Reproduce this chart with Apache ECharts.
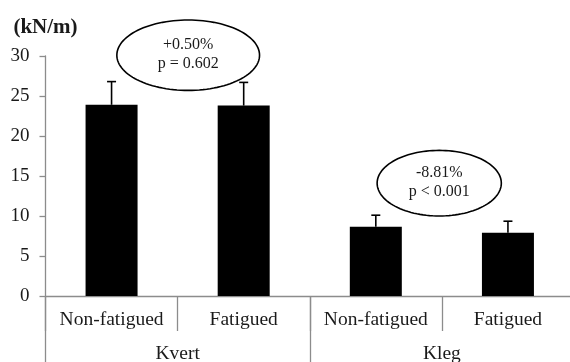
<!DOCTYPE html>
<html>
<head>
<meta charset="utf-8">
<script src="https://cdn.jsdelivr.net/npm/echarts@6/dist/echarts.min.js"></script>
<style>
html,body{margin:0;padding:0;background:#fff;}
#chart{width:570px;height:362px;}
</style>
</head>
<body>
<div id="chart"></div>
<script>
// ---- data ----
const categories = ['Non-fatigued', 'Fatigued', 'Non-fatigued', 'Fatigued'];
const groups = ['Kvert', 'Kleg'];
const means = [23.9, 23.8, 8.65, 7.9];
const sds = [2.9, 2.9, 1.45, 1.45];
const yMin = 0, yMax = 30, yStep = 5;
const unitLabel = '(kN/m)';
const annoLine1 = ['+0.50%', '-8.81%'];
const annoLine2 = ['p = 0.602', 'p < 0.001'];

// ---- layout (annotation anchors: category position, value) ----
const annoAnchor = [[0.58, 30.1], [2.48, 14.1]];
const annoRadius = [[0.54, 4.4], [0.47, 4.1]]; // in category widths / value units

const FONT = '"Liberation Serif", "Times New Roman", serif';
const AXIS_GRAY = '#8c8c8c';
const TXT = '#1a1a1a';

const chart = echarts.init(document.getElementById('chart'));

const errData = means.map((m, i) => [i, m, m + sds[i]]);
const annoData = annoAnchor.map((a, i) => [a[0], a[1], i]);

chart.setOption({
  animation: false,
  backgroundColor: '#fff',
  grid: { left: 45.5, right: -4, top: 56, bottom: 66, containLabel: false, outerBoundsMode: 'none' },
  xAxis: [
    {
      type: 'category',
      data: categories,
      position: 'bottom',
      axisLine: { show: true, lineStyle: { color: AXIS_GRAY, width: 1.3 } },
      axisTick: { show: true, interval: 0, length: 35, lineStyle: { color: AXIS_GRAY, width: 1.3 } },
      axisLabel: { interval: 0, margin: 14, fontSize: 19.5, color: TXT, fontFamily: FONT }
    },
    {
      type: 'category',
      data: groups,
      position: 'bottom',
      axisLine: { show: false },
      axisTick: { show: true, interval: 0, length: 70, lineStyle: { color: AXIS_GRAY, width: 1.3 } },
      axisLabel: { interval: 0, margin: 48, fontSize: 19.5, color: TXT, fontFamily: FONT }
    }
  ],
  yAxis: {
    type: 'value',
    min: yMin, max: yMax, interval: yStep,
    name: unitLabel,
    nameLocation: 'end',
    nameGap: 18,
    nameTextStyle: { fontSize: 21, fontWeight: 'bold', color: TXT, fontFamily: FONT, align: 'center' },
    axisLine: { show: true, lineStyle: { color: AXIS_GRAY, width: 1.3 } },
    axisTick: { show: true, length: 6, lineStyle: { color: AXIS_GRAY, width: 1.3 } },
    axisLabel: { margin: 16, fontSize: 19, color: TXT, fontFamily: FONT },
    splitLine: { show: false }
  },
  series: [
    {
      type: 'bar',
      data: means,
      barWidth: 52,
      itemStyle: { color: '#000' },
      z: 2
    },
    {
      type: 'custom',
      data: errData,
      z: 3,
      renderItem: function (params, api) {
        const x = api.value(0);
        const lo = api.coord([x, api.value(1)]);
        const hi = api.coord([x, api.value(2)]);
        const cap = 4.5;
        const style = { stroke: '#000', lineWidth: 1.6 };
        return {
          type: 'group',
          children: [
            { type: 'line', shape: { x1: lo[0], y1: lo[1], x2: hi[0], y2: hi[1] }, style: style },
            { type: 'line', shape: { x1: hi[0] - cap, y1: hi[1], x2: hi[0] + cap, y2: hi[1] }, style: style }
          ]
        };
      }
    },
    {
      type: 'custom',
      data: annoData,
      z: 5,
      clip: false,
      renderItem: function (params, api) {
        const idx = api.value(2);
        const xv = api.value(0), yv = api.value(1);
        const base = Math.floor(xv);
        const p0 = api.coord([base, yv]);
        const p1 = api.coord([base + 1, yv]);
        const bw = p1[0] - p0[0];
        const cx = p0[0] + (xv - base) * bw;
        const cy = p0[1];
        const unitH = api.size([1, 1])[1];
        const rx = annoRadius[idx][0] * bw;
        const ry = annoRadius[idx][1] * unitH;
        const pts = [];
        for (let k = 0; k < 120; k++) {
          const t = (k / 120) * Math.PI * 2;
          pts.push([cx + rx * Math.cos(t), cy + ry * Math.sin(t)]);
        }
        const ts = { fill: TXT, fontSize: 16, fontFamily: FONT, align: 'center', verticalAlign: 'middle' };
        return {
          type: 'group',
          children: [
            { type: 'polygon', shape: { points: pts }, style: { fill: 'rgba(0,0,0,0)', stroke: '#000', lineWidth: 1.6 } },
            { type: 'text', x: cx, y: cy - 10, style: Object.assign({ text: annoLine1[idx] }, ts) },
            { type: 'text', x: cx, y: cy + 9, style: Object.assign({ text: annoLine2[idx] }, ts) }
          ]
        };
      }
    }
  ]
});
</script>
</body>
</html>
